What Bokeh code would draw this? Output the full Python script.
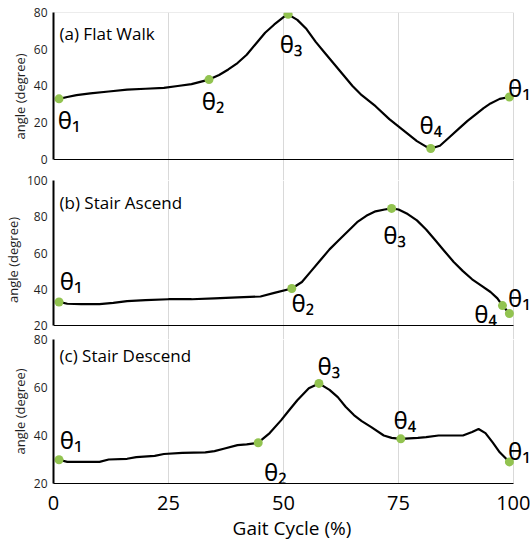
from bokeh.plotting import figure
from bokeh.layouts import column
from bokeh.models import Range1d, FixedTicker, LinearAxis, Label, ColumnDataSource
from bokeh.core.properties import value
from bokeh.embed import file_html
from bokeh.resources import INLINE

# ---------------- data ----------------
x_ticks = [0, 25, 50, 75, 100]
panel_titles = ["(a) Flat Walk", "(b) Stair Ascend", "(c) Stair Descend"]
theta_labels = ["θ₁", "θ₂", "θ₃", "θ₄", "θ₁"]

# (a) Flat Walk
flat_x = [1.2, 3, 5, 8, 12, 16, 20, 24, 27, 30, 33.8, 36, 38, 40, 42, 44, 46, 48, 50, 51,
          53, 55, 57, 59, 61, 63, 65, 67, 70, 73, 76, 79, 81, 82, 84, 86, 88, 90, 92,
          93.5, 95, 97, 99.1]
flat_y = [33, 34, 35, 36, 37, 38, 38.5, 39, 40, 41, 43.5, 46, 49, 52.5, 57, 63, 69, 73.5, 77.5, 79,
          76, 71, 64, 58, 52, 46, 40, 35, 29, 22, 16, 10, 7, 6, 7.5, 12, 16.5, 21, 25,
          28, 30.5, 33, 34]
flat_key_x = [1.2, 33.8, 51, 82, 99.1]
flat_key_y = [33, 43.5, 79, 6, 34]

# (b) Stair Ascend
asc_x = [1.2, 3, 6, 10, 13, 16, 20, 25, 30, 35, 40, 45, 48, 51.8, 54, 56, 58, 60, 62, 64,
         66, 68, 70, 72, 73.5, 75, 77, 79, 81, 83, 85, 87, 89, 91, 93, 95, 96.5, 97.6, 99.1]
asc_y = [33, 32, 31.8, 31.8, 32.5, 33.5, 34, 34.5, 34.5, 35, 35.5, 36, 38, 40.4, 44, 50, 56, 62, 67, 72,
         77, 80.5, 83, 84, 84.6, 84, 81.5, 78, 73, 67, 61, 55, 50, 45.5, 42, 38.5, 35, 31, 26.6]
asc_key_x = [1.2, 51.8, 73.5, 97.6, 99.1]
asc_key_y = [33, 40.4, 84.6, 31, 26.6]

# (c) Stair Descend
desc_x = [1.2, 3, 6, 10, 12, 16, 18, 22, 24, 28, 33, 35, 37, 40, 42, 44.5, 47, 49.5, 51, 53,
          55.5, 57.7, 60, 61.8, 63.5, 65.3, 67, 69, 71.8, 73.5, 75.5, 79.2, 81, 83.7, 86, 89,
          91, 92.4, 93.9, 95.5, 97, 99.1]
desc_y = [29.9, 29, 29, 29, 30, 30.3, 31, 31.5, 32.3, 32.8, 33, 33.5, 34.5, 36, 36.3, 37, 41, 46.4, 50, 54.7,
          59.7, 61.7, 59, 56, 52, 48.5, 46, 43.6, 40, 39, 38.6, 39, 39.3, 40, 40, 40,
          41.5, 42.7, 41, 37, 33, 29]
desc_key_x = [1.2, 44.5, 57.7, 75.5, 99.1]
desc_key_y = [29.9, 37, 61.7, 38.6, 29]

# ---------------- style ----------------
FONT = "Open Sans"
GREEN = "#92c350"
GRID = "#d9d9d9"
TXT = "#1f1f1f"

panels = [
    dict(x=flat_x, y=flat_y, kx=flat_key_x, ky=flat_key_y, yr=(-11.43, 80), bounds=(0, 80),
         yt=[0, 20, 40, 60, 80], h=180, top=12, bottom=0, title_y=68.6, overlap=0,
         dx=[10, 4, 3, 0, 10], dy=[21, 21, 29, -24, -10], gridtop=80),
    dict(x=asc_x, y=asc_y, kx=asc_key_x, ky=asc_key_y, yr=(12.28, 100), bounds=(20, 100),
         yt=[20, 40, 60, 80, 100], h=167, top=8, bottom=0, title_y=87.9, overlap=8,
         dx=[12, 11, 3, -17, 10], dy=[-21, 14, 26, 8, -16], gridtop=None),
    dict(x=desc_x, y=desc_y, kx=desc_key_x, ky=desc_key_y, yr=(20, 80), bounds=(20, 80),
         yt=[20, 40, 60, 80], h=212, top=8, bottom=59, title_y=73.4, overlap=8,
         dx=[12, 17, 10, 4, 10], dy=[-20, 29, -18, -19, -11], gridtop=None),
]

figs = []
for i, pd_ in enumerate(panels):
    last = i == len(panels) - 1
    p = figure(width=530, height=pd_["h"], output_backend="svg", toolbar_location=None,
               x_range=Range1d(0, 103.69), y_range=Range1d(*pd_["yr"]),
               min_border_left=52, min_border_right=0, min_border_top=pd_["top"],
               min_border_bottom=pd_["bottom"], margin=(-pd_["overlap"], 0, 0, 0))
    p.outline_line_color = None
    p.background_fill_color = None
    p.border_fill_color = None

    # y axis
    ya = p.yaxis[0]
    ya.ticker = FixedTicker(ticks=pd_["yt"])
    ya.bounds = pd_["bounds"]
    ya.axis_line_color = "black"
    ya.axis_line_width = 2
    ya.major_tick_line_color = None
    ya.minor_tick_line_color = None
    ya.major_tick_out = 0
    ya.major_tick_in = 0
    ya.minor_tick_out = 0
    ya.minor_tick_in = 0
    ya.major_label_text_font = FONT
    ya.major_label_text_font_size = "12px"
    ya.major_label_text_color = TXT
    ya.major_label_standoff = 6
    ya.axis_label = "angle (degree)"
    ya.axis_label_text_font = FONT
    ya.axis_label_text_font_size = "13px"
    ya.axis_label_text_font_style = "normal"
    ya.axis_label_text_color = TXT
    ya.axis_label_standoff = 2
    p.ygrid.visible = False

    # x axis
    xa = p.xaxis[0]
    xa.ticker = FixedTicker(ticks=x_ticks)
    xa.bounds = (0, 100)
    xa.axis_line_color = "black"
    xa.axis_line_width = 1
    xa.major_tick_line_color = None
    xa.minor_tick_line_color = None
    xa.major_tick_out = 0
    xa.major_tick_in = 0
    xa.minor_tick_out = 0
    xa.minor_tick_in = 0
    if last:
        xa.major_label_text_font = FONT
        xa.major_label_text_font_size = "20px"
        xa.major_label_text_color = "black"
        xa.major_label_standoff = 12
        xa.axis_label = "Gait Cycle (%)"
        xa.axis_label_text_font = FONT
        xa.axis_label_text_font_size = "19px"
        xa.axis_label_text_font_style = "normal"
        xa.axis_label_text_color = "black"
        xa.axis_label_standoff = 2
    else:
        xa.fixed_location = pd_["bounds"][0]
        xa.major_label_text_font_size = "0px"
        xa.major_label_text_color = None

    p.xgrid.ticker = FixedTicker(ticks=x_ticks[1:])
    p.xgrid.grid_line_color = GRID
    p.xgrid.grid_line_width = 1

    if pd_["gridtop"] is not None:
        ta = LinearAxis(ticker=FixedTicker(ticks=[]), bounds=(0, 100), fixed_location=pd_["gridtop"],
                        axis_line_color=GRID, axis_line_width=1, major_tick_line_color=None,
                        minor_tick_line_color=None, major_label_text_font_size="0px",
                        major_tick_out=0, minor_tick_out=0)
        p.add_layout(ta, "above")

    p.line(pd_["x"], pd_["y"], line_color="black", line_width=2.2, line_join="round")
    p.scatter(pd_["kx"], pd_["ky"], size=9, fill_color=GREEN, line_color=None)

    src = ColumnDataSource(dict(x=pd_["kx"], y=pd_["ky"], t=theta_labels,
                                dx=pd_["dx"], dy=pd_["dy"]))
    p.text(x="x", y="y", text="t", x_offset="dx", y_offset="dy", source=src,
           text_font=value("Noto Sans"), text_font_size="24px", text_color="black",
           text_align="center", text_baseline="middle")

    p.add_layout(Label(x=1.3, y=pd_["title_y"], text=panel_titles[i], text_font=FONT,
                       text_font_size="17px", text_color="black", text_baseline="middle"))
    figs.append(p)

layout = column(*figs, spacing=0)
open("out.html", "w").write(file_html(layout, INLINE))
